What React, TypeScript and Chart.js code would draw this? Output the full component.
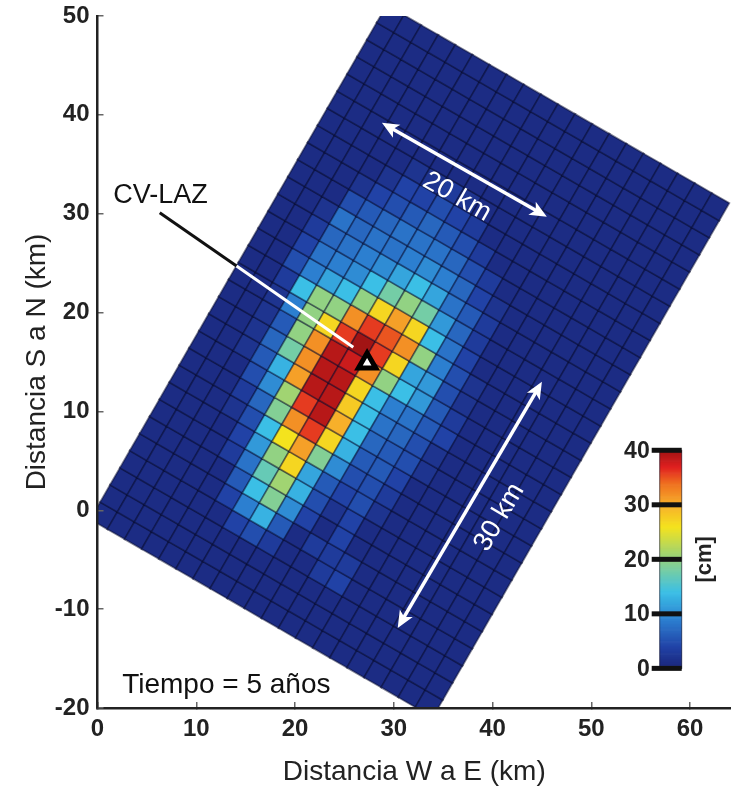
import React, { useEffect, useRef } from 'react';
import { Chart, registerables } from 'chart.js';

Chart.register(...registerables);

const FONT = "'Liberation Sans', Arial, Helvetica, sans-serif";

// ---- axes ----
const xTicks = [0, 10, 20, 30, 40, 50, 60];
const yTicks = [-20, -10, 0, 10, 20, 30, 40, 50];
const xLimits = [0, 64.15];
const yLimits = [-20, 50];
const xTitle = 'Distancia W a E (km)';
const yTitle = 'Distancia S a N (km)';

// ---- fault plane geometry (km) ----
const faultCornerSW = [-0.7, -0.9];
const faultStrikeDeg = 30;
const faultCellKm = 2;

// ---- slip (cm): rows along strike (SW -> NE), columns across (NW -> SE) ----
const slipCm: number[][] = [
  [1, 1, 1, 1, 1, 1, 1, 1, 1, 1, 1, 1, 1, 1, 1, 1, 1, 1, 1, 1],
  [1, 1, 1, 1, 1, 1, 1, 1, 1, 1, 1, 1, 1, 1, 1, 1, 1, 1, 1, 1],
  [1, 1, 1, 1, 1, 1, 1, 1, 1, 1, 1, 1, 1, 1, 1, 1, 1, 1, 1, 1],
  [1, 1, 1, 1, 1, 1, 4, 5, 3, 1, 1, 3, 4, 1, 1, 1, 1, 1, 1, 1],
  [1, 1, 1, 1, 1, 4, 9, 13, 6, 1, 3, 3, 3, 1, 1, 1, 1, 1, 1, 1],
  [1, 1, 1, 1, 1, 6, 14, 19, 10, 4, 1, 4, 1, 1, 1, 1, 1, 1, 1, 1],
  [1, 1, 1, 1, 3, 8, 17, 21, 13, 5, 2, 4, 1, 1, 1, 1, 1, 1, 1, 1],
  [1, 1, 1, 1, 4, 11, 20, 27, 12, 6, 4, 5, 2, 1, 1, 1, 1, 1, 1, 1],
  [1, 1, 1, 2, 5, 14, 26, 31, 19, 10, 5, 5, 3, 1, 1, 1, 1, 1, 1, 1],
  [1, 1, 1, 3, 7, 19, 32, 36, 27, 13, 6, 6, 4, 1, 1, 1, 1, 1, 1, 1],
  [1, 1, 1, 5, 10, 21, 36, 39, 30, 14, 7, 6, 5, 2, 1, 1, 1, 1, 1, 1],
  [1, 1, 2, 6, 13, 31, 39, 39, 28, 14, 8, 7, 5, 2, 1, 1, 1, 1, 1, 1],
  [1, 1, 2, 7, 18, 32, 39, 39, 27, 14, 9, 8, 6, 4, 1, 1, 1, 1, 1, 1],
  [1, 1, 2, 6, 20, 32, 39, 38, 32, 20, 14, 11, 6, 3, 1, 1, 1, 1, 1, 1],
  [1, 1, 2, 9, 20, 27, 36, 40, 36, 27, 12, 11, 5, 2, 1, 1, 1, 1, 1, 1],
  [1, 1, 3, 14, 20, 20, 32, 36, 35, 32, 20, 9, 5, 2, 1, 1, 1, 1, 1, 1],
  [1, 1, 5, 9, 12, 14, 20, 27, 31, 27, 14, 8, 4, 1, 1, 1, 1, 1, 1, 1],
  [1, 1, 4, 8, 9, 10, 14, 18, 20, 18, 11, 7, 3, 1, 1, 1, 1, 1, 1, 1],
  [1, 1, 3, 7, 8, 9, 10, 12, 14, 12, 8, 6, 3, 1, 1, 1, 1, 1, 1, 1],
  [1, 1, 2, 8, 7, 8, 8, 9, 10, 9, 7, 4, 2, 1, 1, 1, 1, 1, 1, 1],
  [1, 1, 1, 5, 6, 7, 8, 8, 8, 7, 5, 3, 1, 1, 1, 1, 1, 1, 1, 1],
  [1, 1, 1, 2, 4, 5, 6, 7, 6, 5, 3, 1, 1, 1, 1, 1, 1, 1, 1, 1],
  [1, 1, 1, 1, 2, 4, 4, 5, 4, 3, 1, 1, 1, 1, 1, 1, 1, 1, 1, 1],
  [1, 1, 1, 1, 1, 2, 2, 3, 2, 1, 1, 1, 1, 1, 1, 1, 1, 1, 1, 1],
  [1, 1, 1, 1, 1, 1, 1, 1, 1, 1, 1, 1, 1, 1, 1, 1, 1, 1, 1, 1],
  [1, 1, 1, 1, 1, 1, 1, 1, 1, 1, 1, 1, 1, 1, 1, 1, 1, 1, 1, 1],
  [1, 1, 1, 1, 1, 1, 1, 1, 1, 1, 1, 1, 1, 1, 1, 1, 1, 1, 1, 1],
  [1, 1, 1, 1, 1, 1, 1, 1, 1, 1, 1, 1, 1, 1, 1, 1, 1, 1, 1, 1],
  [1, 1, 1, 1, 1, 1, 1, 1, 1, 1, 1, 1, 1, 1, 1, 1, 1, 1, 1, 1],
  [1, 1, 1, 1, 1, 1, 1, 1, 1, 1, 1, 1, 1, 1, 1, 1, 1, 1, 1, 1],
];

// ---- colour scale (cm) ----
const cmapStops = [0, 4, 9, 14, 18, 22, 26, 30, 34, 37, 40];
const cmapColors = ['#1a2578', '#2142a6', '#2c7fd0', '#3bbfe6', '#74cda6', '#b0d660', '#f4e31e', '#f7b02a', '#ef7020', '#e02020', '#a21414'];
const colorbarTicks = [0, 10, 20, 30, 40];
const colorbarUnit = '[cm]';
const colorbarBox = { x0: 56.93, x1: 59.16, y0: -15.99, y1: 6.07 };

// ---- annotations (km) ----
const stationName = 'CV-LAZ';
const stationPos = [27.3, 14.9];
const stationLabelAt = [1.6, 31.1];
const leaderFrom = [6.3, 30.1];
const leaderTo = [25.9, 16.5];
const widthArrow = { from: [28.8, 39.2], to: [45.5, 29.7], label: '20 km', at: [36.4, 31.7] };
const lengthArrow = { from: [30.4, -11.9], to: [45.0, 13.0], label: '30 km', at: [40.7, -0.7] };
const timeLabel = { text: 'Tiempo = 5 años', at: [2.5, -18.5] };

function hexRgb(h: string) {
  const n = parseInt(h.slice(1), 16);
  return [(n >> 16) & 255, (n >> 8) & 255, n & 255];
}
function slipColor(v: number) {
  const t = Math.max(cmapStops[0], Math.min(cmapStops[cmapStops.length - 1], v));
  let k = 0;
  while (k < cmapStops.length - 2 && t > cmapStops[k + 1]) k++;
  const f = (t - cmapStops[k]) / (cmapStops[k + 1] - cmapStops[k]);
  const a = hexRgb(cmapColors[k]);
  const b = hexRgb(cmapColors[k + 1]);
  const c = a.map((ai, i) => Math.round(ai + (b[i] - ai) * f));
  return `rgb(${c[0]},${c[1]},${c[2]})`;
}

function buildCells() {
  const r = (faultStrikeDeg * Math.PI) / 180;
  const ux = Math.sin(r), uy = Math.cos(r);
  const vx = Math.cos(r), vy = -Math.sin(r);
  const out: { x: number; y: number; slip: number }[] = [];
  slipCm.forEach((row, k) =>
    row.forEach((s, l) => {
      const a = (k + 0.5) * faultCellKm;
      const b = (l + 0.5) * faultCellKm;
      out.push({ x: faultCornerSW[0] + a * ux + b * vx, y: faultCornerSW[1] + a * uy + b * vy, slip: s });
    })
  );
  return out;
}

const cellRadius = (c: any) => {
  const sx = c.chart && c.chart.scales && c.chart.scales.x;
  if (!sx) return 14;
  const side = Math.abs(sx.getPixelForValue(faultCellKm) - sx.getPixelForValue(0));
  return isFinite(side) && side > 0 ? side / Math.SQRT2 + 0.4 : 14;
};

function drawDoubleArrow(ctx: CanvasRenderingContext2D, x1: number, y1: number, x2: number, y2: number) {
  const ang = Math.atan2(y2 - y1, x2 - x1);
  const dx = Math.cos(ang), dy = Math.sin(ang);
  const head = 17, hw = 7.5;
  ctx.strokeStyle = '#fff';
  ctx.fillStyle = '#fff';
  ctx.lineWidth = 3.5;
  ctx.beginPath();
  ctx.moveTo(x1 + dx * head * 0.7, y1 + dy * head * 0.7);
  ctx.lineTo(x2 - dx * head * 0.7, y2 - dy * head * 0.7);
  ctx.stroke();
  const tips: [number, number, number][] = [[x2, y2, 1], [x1, y1, -1]];
  for (const [tx, ty, s] of tips) {
    ctx.beginPath();
    ctx.moveTo(tx, ty);
    ctx.lineTo(tx - s * dx * head - dy * hw, ty - s * dy * head + dx * hw);
    ctx.lineTo(tx - s * dx * head * 0.75, ty - s * dy * head * 0.75);
    ctx.lineTo(tx - s * dx * head + dy * hw, ty - s * dy * head - dx * hw);
    ctx.closePath();
    ctx.fill();
  }
}

const overlayPlugin = {
  id: 'faultOverlay',
  afterDatasetsDraw(chart: any) {
    const { ctx } = chart;
    const sx = chart.scales.x, sy = chart.scales.y;
    const P = (p: number[]) => [sx.getPixelForValue(p[0]), sy.getPixelForValue(p[1])];
    ctx.save();

    // leader line: black outside the fault plane, white on it
    const r = (faultStrikeDeg * Math.PI) / 180;
    const vx = Math.cos(r), vy = -Math.sin(r);
    const A = leaderFrom, B = leaderTo;
    const t = ((faultCornerSW[0] - A[0]) * vx + (faultCornerSW[1] - A[1]) * vy) /
      ((B[0] - A[0]) * vx + (B[1] - A[1]) * vy);
    const M = [A[0] + t * (B[0] - A[0]), A[1] + t * (B[1] - A[1])];
    const [ax, ay] = P(A), [mx, my] = P(M), [bx, by] = P(B);
    ctx.lineWidth = 3;
    ctx.strokeStyle = '#111';
    ctx.beginPath(); ctx.moveTo(ax, ay); ctx.lineTo(mx, my); ctx.stroke();
    ctx.strokeStyle = '#fff';
    ctx.beginPath(); ctx.moveTo(mx, my); ctx.lineTo(bx, by); ctx.stroke();

    ctx.fillStyle = '#111';
    ctx.font = `27px ${FONT}`;
    ctx.textAlign = 'left';
    ctx.textBaseline = 'alphabetic';
    const [lx, ly] = P(stationLabelAt);
    ctx.fillText(stationName, lx, ly);

    // scale arrows
    for (const arr of [widthArrow, lengthArrow]) {
      const [x1, y1] = P(arr.from), [x2, y2] = P(arr.to);
      drawDoubleArrow(ctx, x1, y1, x2, y2);
      const ang = Math.atan2(y2 - y1, x2 - x1);
      const [tx, ty] = P(arr.at);
      ctx.save();
      ctx.translate(tx, ty);
      ctx.rotate(ang);
      ctx.fillStyle = '#fff';
      ctx.font = `27px ${FONT}`;
      ctx.textAlign = 'center';
      ctx.textBaseline = 'middle';
      ctx.fillText(arr.label, 0, 0);
      ctx.restore();
    }

    // time label
    ctx.fillStyle = '#111';
    ctx.font = `28px ${FONT}`;
    ctx.textAlign = 'left';
    ctx.textBaseline = 'alphabetic';
    const [tlx, tly] = P(timeLabel.at);
    ctx.fillText(timeLabel.text, tlx, tly);

    // colour bar
    const vmax = colorbarTicks[colorbarTicks.length - 1];
    const cx0 = sx.getPixelForValue(colorbarBox.x0), cx1 = sx.getPixelForValue(colorbarBox.x1);
    const cyb = sy.getPixelForValue(colorbarBox.y0), cyt = sy.getPixelForValue(colorbarBox.y1);
    const steps = 200;
    for (let s = 0; s < steps; s++) {
      const ya = cyb + (cyt - cyb) * (s / steps);
      const yb = cyb + (cyt - cyb) * ((s + 1) / steps);
      ctx.fillStyle = slipColor(((s + 0.5) / steps) * vmax);
      ctx.fillRect(cx0, yb, cx1 - cx0, ya - yb + 0.7);
    }
    ctx.strokeStyle = 'rgba(20,20,40,0.6)';
    ctx.lineWidth = 1;
    ctx.strokeRect(cx0, cyt, cx1 - cx0, cyb - cyt);
    ctx.font = `bold 23px ${FONT}`;
    ctx.textAlign = 'right';
    ctx.textBaseline = 'middle';
    for (const tk of colorbarTicks) {
      const yy = cyb + (cyt - cyb) * (tk / vmax);
      ctx.fillStyle = '#111';
      ctx.fillRect(cx0 - 8, yy - 2.5, cx1 - cx0 + 8, 5);
      ctx.fillStyle = '#222';
      ctx.fillText(String(tk), cx0 - 10, yy + 1);
    }
    ctx.save();
    ctx.translate(cx1 + 23, (cyb + cyt) / 2);
    ctx.rotate(-Math.PI / 2);
    ctx.textAlign = 'center';
    ctx.textBaseline = 'middle';
    ctx.font = `bold 22px ${FONT}`;
    ctx.fillStyle = '#222';
    ctx.fillText(colorbarUnit, 0, 0);
    ctx.restore();

    ctx.restore();
  },
};

export default function App() {
  const ref = useRef<HTMLCanvasElement>(null);
  useEffect(() => {
    if (!ref.current) return;
    const cells = buildCells();
    const chart = new Chart(ref.current, {
      type: 'scatter',
      data: {
        datasets: [
          {
            label: stationName,
            data: [{ x: stationPos[0], y: stationPos[1] }],
            pointStyle: 'triangle',
            pointRadius: 10,
            pointHoverRadius: 10,
            pointBackgroundColor: '#ffffff',
            pointBorderColor: '#000000',
            pointBorderWidth: 5,
          } as any,
          {
            label: 'slip',
            data: cells as any,
            pointStyle: 'rect',
            pointRotation: faultStrikeDeg,
            pointRadius: cellRadius,
            pointHoverRadius: cellRadius,
            pointBackgroundColor: (c: any) => slipColor(c.raw ? c.raw.slip : 0),
            pointBorderColor: 'rgba(8,12,45,0.5)',
            pointBorderWidth: 1.8,
          } as any,
        ],
      },
      options: {
        responsive: false,
        animation: false,
        events: [],
        layout: { autoPadding: false, padding: { top: 16, right: 0, left: 0, bottom: 0 } },
        plugins: { legend: { display: false }, tooltip: { enabled: false } },
        scales: {
          x: {
            type: 'linear',
            min: xLimits[0],
            max: xLimits[1],
            afterBuildTicks: (s: any) => { s.ticks = xTicks.map((value) => ({ value })); },
            afterFit: (s: any) => { s.height = 81; s.paddingLeft = 0; s.paddingRight = 0; },
            grid: { drawOnChartArea: false, drawTicks: true, tickLength: -6, color: '#666', lineWidth: 1.5, z: 1 },
            border: { display: true, color: '#222', width: 2.5, z: 1 },
            ticks: { padding: 13, color: '#222', font: { family: FONT, size: 24, weight: 'bold' }, maxRotation: 0, autoSkip: false },
            title: { display: true, text: xTitle, color: '#222', font: { family: FONT, size: 28, lineHeight: 1.2 }, padding: { top: 0, bottom: 0 } },
          },
          y: {
            type: 'linear',
            min: yLimits[0],
            max: yLimits[1],
            afterBuildTicks: (s: any) => { s.ticks = yTicks.map((value) => ({ value })); },
            afterFit: (s: any) => { s.width = 97.5; s.paddingTop = 0; s.paddingBottom = 0; },
            grid: { drawOnChartArea: false, drawTicks: true, tickLength: -6, color: '#666', lineWidth: 1.5, z: 1 },
            border: { display: true, color: '#222', width: 2.5, z: 1 },
            ticks: { padding: 14, color: '#222', font: { family: FONT, size: 24, weight: 'bold' }, autoSkip: false },
            title: { display: true, text: yTitle, color: '#222', font: { family: FONT, size: 28, lineHeight: 1.2 }, padding: { top: 20, bottom: 0 } },
          },
        },
      } as any,
      plugins: [overlayPlugin],
    });
    return () => chart.destroy();
  }, []);
  return (
    <div style={{ position: 'absolute', left: 0, top: 0, width: 731, height: 789, background: '#fff' }}>
      <canvas ref={ref} width={731} height={789} style={{ display: 'block', width: 731, height: 789 }} />
    </div>
  );
}
